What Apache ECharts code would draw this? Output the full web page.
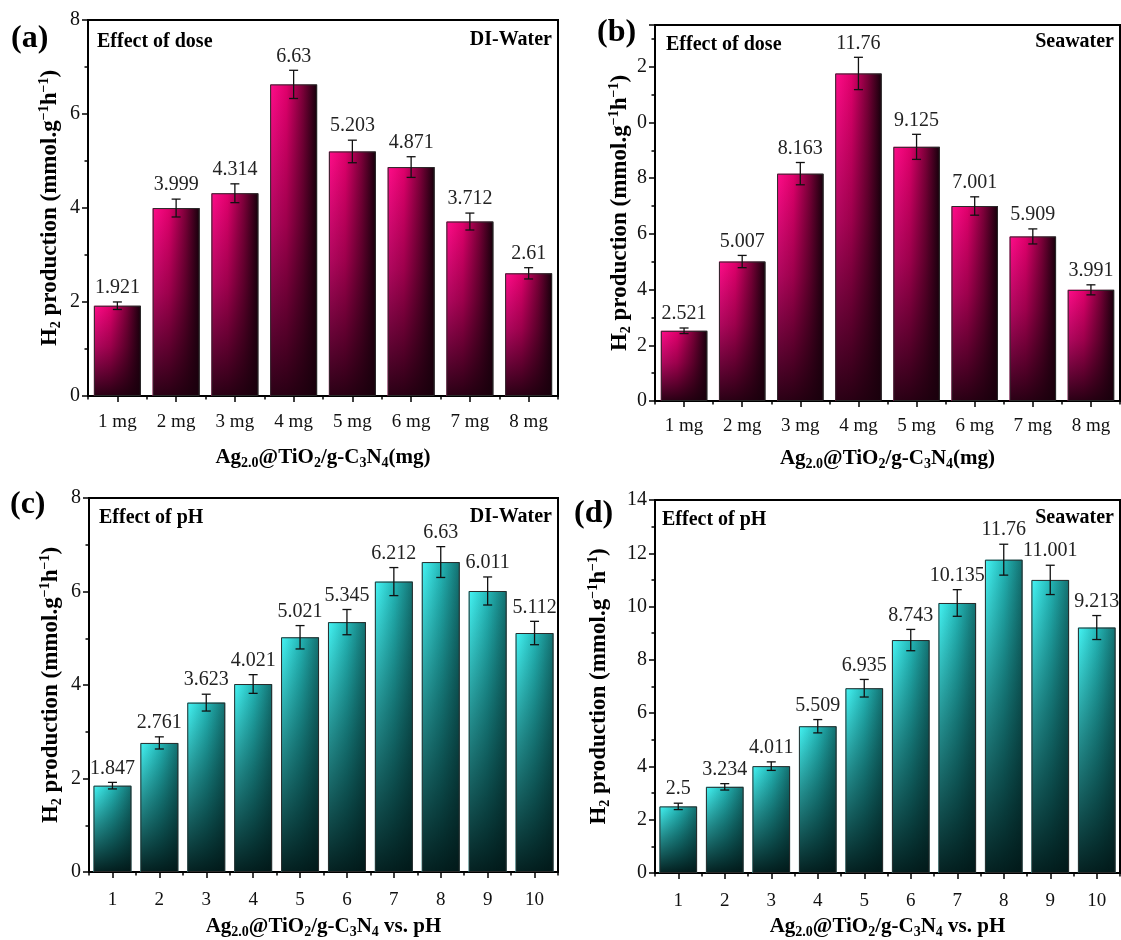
<!DOCTYPE html>
<html><head><meta charset="utf-8">
<script src="https://cdn.jsdelivr.net/npm/echarts@6/dist/echarts.min.js"></script>
<style>html,body{margin:0;padding:0;background:#fff}#c{width:1121px;height:940px}</style>
</head><body><div id="c"></div>
<script>
// ---- data ----
var catsDose = ['1 mg','2 mg','3 mg','4 mg','5 mg','6 mg','7 mg','8 mg'];
var catsPH = ['1','2','3','4','5','6','7','8','9','10'];
var diDose = [1.921,3.999,4.314,6.63,5.203,4.871,3.712,2.61];
var diDoseErr = [0.08,0.19,0.2,0.3,0.24,0.22,0.18,0.12];
var swDose = [2.521,5.007,8.163,11.76,9.125,7.001,5.909,3.991];
var swDoseErr = [0.1,0.22,0.4,0.58,0.45,0.33,0.27,0.18];
var diPH = [1.847,2.761,3.623,4.021,5.021,5.345,6.212,6.63,6.011,5.112];
var diPHErr = [0.07,0.13,0.18,0.2,0.25,0.27,0.3,0.33,0.3,0.25];
var swPH = [2.5,3.234,4.011,5.509,6.935,8.743,10.135,11.76,11.001,9.213];
var swPHErr = [0.12,0.12,0.16,0.25,0.33,0.4,0.5,0.58,0.55,0.45];
var yTicksA = ['0','2','4','6','8'];
var yTicksB = ['0','2','4','6','8','0','2'];
var yTicksC = ['0','2','4','6','8'];
var yTicksD = ['0','2','4','6','8','10','12','14'];

var FF = '"Liberation Serif", "Times New Roman", serif';
var chart = echarts.init(document.getElementById('c'), null, {renderer:'canvas'});

var pinkH = new echarts.graphic.LinearGradient(0,0,1,0,[
  {offset:0,color:'#ff0d8a'},{offset:0.35,color:'#e0006c'},{offset:0.7,color:'#7a0038'},{offset:1,color:'#14000a'}]);
var pinkV = new echarts.graphic.LinearGradient(0,0,0,1,[
  {offset:0,color:'rgba(30,0,15,0)'},{offset:0.45,color:'rgba(30,0,15,0.35)'},{offset:1,color:'rgba(25,0,12,0.92)'}]);
var cyanH = new echarts.graphic.LinearGradient(0,0,1,0,[
  {offset:0,color:'#45f5f5'},{offset:0.5,color:'#24b8b8'},{offset:1,color:'#137070'}]);
var cyanV = new echarts.graphic.LinearGradient(0,0,0,1,[
  {offset:0,color:'rgba(0,20,20,0)'},{offset:0.45,color:'rgba(0,25,25,0.45)'},{offset:1,color:'rgba(0,18,18,0.93)'}]);

var grids = [
  {left:88, top:20, width:470, height:376},
  {left:655, top:25, width:465, height:376},
  {left:89, top:498, width:469, height:376},
  {left:655, top:500, width:465, height:377}
];
var panels = [
  {cats:catsDose, vals:diDose, errs:diDoseErr, max:8, ticks:yTicksA, h:pinkH, v:pinkV, xname:'Ag{s|2.0}@TiO{s|2}/g-C{s|3}N{s|4}(mg)', yGap:25, xGap:50, lm:17, gap:'20%'},
  {cats:catsDose, vals:swDose, errs:swDoseErr, max:13.5, ticks:yTicksB, h:pinkH, v:pinkV, xname:'Ag{s|2.0}@TiO{s|2}/g-C{s|3}N{s|4}(mg)', yGap:14, xGap:46, lm:16, gap:'20%'},
  {cats:catsPH, vals:diPH, errs:diPHErr, max:8, ticks:yTicksC, h:cyanH, v:cyanV, xname:'Ag{s|2.0}@TiO{s|2}/g-C{s|3}N{s|4} vs. pH', yGap:25, xGap:43, lm:19, gap:'19%'},
  {cats:catsPH, vals:swPH, errs:swPHErr, max:14, ticks:yTicksD, h:cyanH, v:cyanV, xname:'Ag{s|2.0}@TiO{s|2}/g-C{s|3}N{s|4} vs. pH', yGap:43, xGap:42, lm:19, gap:'19%'}
];

var gridOpt = [], xAxes = [], yAxes = [], series = [];
var subRich = {
  s:{fontSize:14, fontWeight:'bold', fontFamily:FF, lineHeight:12, verticalAlign:'bottom', color:'#000'},
  p:{fontSize:14, fontWeight:'bold', fontFamily:FF, lineHeight:12, verticalAlign:'top', color:'#000'}
};
panels.forEach(function(p, g){
  var gr = grids[g];
  gridOpt.push({left:gr.left, top:gr.top, width:gr.width, height:gr.height, show:true, borderColor:'#000', borderWidth:2, backgroundColor:'transparent'});
  xAxes.push({type:'category', gridIndex:g, data:p.cats, position:'bottom',
    axisLine:{show:true, onZero:false, lineStyle:{color:'#000', width:2}},
    axisTick:{show:true, alignWithLabel:true, length:6, lineStyle:{color:'#000', width:1.5}},
    axisLabel:{fontFamily:FF, fontSize:19, color:'#111', margin:p.lm},
    splitLine:{show:false},
    name:p.xname, nameLocation:'middle', nameGap:p.xGap,
    nameTextStyle:{fontFamily:FF, fontSize:21, fontWeight:'bold', color:'#000', lineHeight:24, rich:subRich}
  });
  xAxes.push({type:'category', gridIndex:g, data:p.cats, position:'bottom', offset:0,
    axisLine:{show:false}, axisLabel:{show:false}, splitLine:{show:false},
    axisTick:{show:true, alignWithLabel:false, length:3.5, lineStyle:{color:'#000', width:1.5}}
  });
  (function(ticks){
  yAxes.push({type:'value', gridIndex:g, min:0, max:p.max, interval:2,
    axisLine:{show:true, onZero:false, lineStyle:{color:'#000', width:2}},
    axisTick:{show:true, length:6, lineStyle:{color:'#000', width:1.5}},
    minorTick:{show:true, splitNumber:2, length:3.5, lineStyle:{color:'#000', width:1.5}},
    splitLine:{show:false}, minorSplitLine:{show:false},
    axisLabel:{fontFamily:FF, fontSize:20, color:'#111', margin:8, formatter:function(v){return ticks[Math.round(v/2)];}},
    name:'H{s|2} production (mmol.g{p|\u22121}h{p|\u22121})', nameLocation:'middle', nameGap:p.yGap,
    nameTextStyle:{fontFamily:FF, fontSize:23, fontWeight:'bold', color:'#000', lineHeight:26, rich:subRich}
  });
  })(p.ticks);
  series.push({type:'bar', xAxisIndex:2*g, yAxisIndex:g, data:p.vals, barGap:'-100%', barCategoryGap:p.gap,
    itemStyle:{color:p.h}, silent:true, z:2});
  series.push({type:'bar', xAxisIndex:2*g, yAxisIndex:g, data:p.vals, barGap:'-100%', barCategoryGap:p.gap,
    itemStyle:{color:p.v, borderColor:'#2a2a2a', borderWidth:1}, silent:true, z:3});
  var vals = p.vals;
  series.push({type:'custom', xAxisIndex:2*g, yAxisIndex:g, z:5, silent:true,
    data:p.vals.map(function(v,i){return [i, v, p.errs[i]];}),
    renderItem:function(params, api){
      var i = api.value(0), v = api.value(1), e = api.value(2);
      var t = api.coord([i, v+e]), b = api.coord([i, v-e]);
      var c = 4.5, ls = {stroke:'#111', lineWidth:1.3};
      return {type:'group', children:[
        {type:'line', shape:{x1:t[0],y1:t[1],x2:b[0],y2:b[1]}, style:ls},
        {type:'line', shape:{x1:t[0]-c,y1:t[1],x2:t[0]+c,y2:t[1]}, style:ls},
        {type:'line', shape:{x1:b[0]-c,y1:b[1],x2:b[0]+c,y2:b[1]}, style:ls},
        {type:'text', x:t[0], y:t[1]-4, style:{text:String(vals[i]), textAlign:'center', textVerticalAlign:'bottom', font:'20px '+FF, fill:'#222'}}
      ]};
    }
  });
});

function txt(s, x, y, size, align){
  return {type:'text', x:x, y:y, z:10, style:{text:s, font:'bold '+size+'px '+FF, fill:'#000', textAlign:align||'left', textVerticalAlign:'middle'}};
}
var graphics = [
  txt('(a)', 11, 39, 32), txt('(b)', 597, 33, 32), txt('(c)', 10, 505, 32), txt('(d)', 574, 514, 32),
  txt('Effect of dose', 97, 42, 20), txt('DI-Water', 552, 40, 20, 'right'),
  txt('Effect of dose', 666, 45, 20), txt('Seawater', 1114, 42, 20, 'right'),
  txt('Effect of pH', 99, 518, 20), txt('DI-Water', 552, 517, 20, 'right'),
  txt('Effect of pH', 662, 520, 20), txt('Seawater', 1114, 518, 20, 'right')
];

chart.setOption({
  backgroundColor:'#fff',
  animation:false,
  grid:gridOpt, xAxis:xAxes, yAxis:yAxes, series:series,
  graphic:graphics
});
</script></body></html>
